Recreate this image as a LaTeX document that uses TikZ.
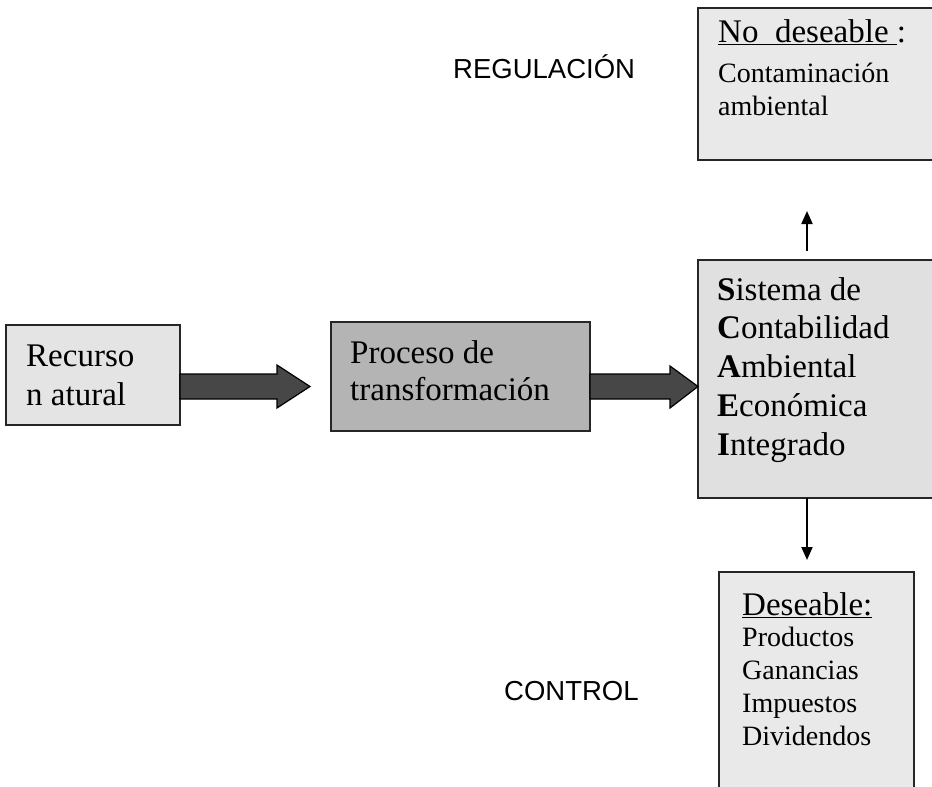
\documentclass[tikz,border=0pt]{standalone}
\usepackage{fontspec}
\setmainfont{Liberation Serif}
\newfontfamily\labsans{Liberation Sans}
\usetikzlibrary{calc,arrows.meta}
\definecolor{reclight}{HTML}{E4E4E4}
\definecolor{procgray}{HTML}{B4B4B4}
\definecolor{sislight}{HTML}{E0E0E0}
\definecolor{outlight}{HTML}{E9E9E9}
\definecolor{arrowgray}{HTML}{474747}
\begin{document}
\begin{tikzpicture}[x=1pt,y=-1pt,
  box/.style={draw=black!85,line width=1.9pt,inner sep=0pt,outer sep=0pt},
  txt/.style={anchor=base west,inner sep=0pt,font=\fontsize{33}{38}\selectfont},
  smalltxt/.style={anchor=base west,inner sep=0pt,font=\fontsize{28}{33}\selectfont},
  lab/.style={anchor=base west,inner sep=0pt,font=\labsans\fontsize{27.5}{32}\selectfont},
  thinarrow/.style={line width=2pt,-{Triangle[length=13pt,width=11pt]}},
  block/.style={draw=black,line width=1.2pt,fill=arrowgray}]
\useasboundingbox (0,0) rectangle (932,787);
\clip (0,0) rectangle (932,787);

% boxes
\node[box,fill=reclight,minimum width=174,minimum height=100] (rec) at (93,375) {};
\node[box,fill=procgray,minimum width=259,minimum height=109] (proc) at (460.5,376.5) {};
\node[box,fill=sislight,minimum width=247,minimum height=238] (sis) at (821.5,379) {};
\node[box,fill=outlight,minimum width=247,minimum height=152] (nd) at (821.5,84) {};
\node[box,fill=outlight,minimum width=195,minimum height=228] (des) at (816.5,686) {};

% block arrows
\draw[block] ($(rec.east)+(0,-1)$) -- ($(proc.west|-rec.east)+(-54,-1)$)
  -- ($(proc.west|-rec.east)+(-54,-10)$) -- ($(proc.west|-rec.east)+(-21,11.5)$)
  -- ($(proc.west|-rec.east)+(-54,33)$) -- ($(proc.west|-rec.east)+(-54,24)$)
  -- ($(rec.east)+(0,24)$) -- cycle;
\draw[block] ($(proc.east)+(0,-2.5)$) -- ($(sis.west|-proc.east)+(-28,-2.5)$)
  -- ($(sis.west|-proc.east)+(-28,-10.5)$) -- ($(sis.west|-proc.east)+(0,10)$)
  -- ($(sis.west|-proc.east)+(-28,31.5)$) -- ($(sis.west|-proc.east)+(-28,22.5)$)
  -- ($(proc.east)+(0,22.5)$) -- cycle;

% thin arrows
\draw[thinarrow] ($(sis.north west)+(109,-9)$) -- ($(nd.south west)+(109,51)$);
\draw[thinarrow] ($(sis.south west)+(109,0)$) -- ($(des.north west)+(88,-12)$);

% texts
\node[txt] (r1) at (26,366) {Recurso};
\node[txt] (r2) at (26,405) {n atural};
\node[txt] (p1) at (350,363) {Proceso de};
\node[txt] (p2) at (350,400) {transformación};
\node[txt] (s1) at (717,300) {\textbf{S}istema de};
\node[txt] (s2) at (717,338.5) {\textbf{C}ontabilidad};
\node[txt] (s3) at (717,377) {\textbf{A}mbiental};
\node[txt] (s4) at (717,416) {\textbf{E}conómica};
\node[txt] (s5) at (717,455) {\textbf{I}ntegrado};
\node[txt] (n1) at (718,42) {\underline{No\ \ deseable\ }:};
\node[smalltxt] (n2) at (718,82) {Contaminación};
\node[smalltxt] (n3) at (718,115) {ambiental};
\node[txt] (d1) at (742,615) {\underline{Deseable:}};
\node[smalltxt] (d2) at (742,646) {Productos};
\node[smalltxt] (d3) at (742,679) {Ganancias};
\node[smalltxt] (d4) at (742,712) {Impuestos};
\node[smalltxt] (d5) at (742,745) {Dividendos};
\node[lab] (reg) at (453,78) {REGULACIÓN};
\node[lab] (ctl) at (504,700) {CONTROL};
\end{tikzpicture}
\end{document}
